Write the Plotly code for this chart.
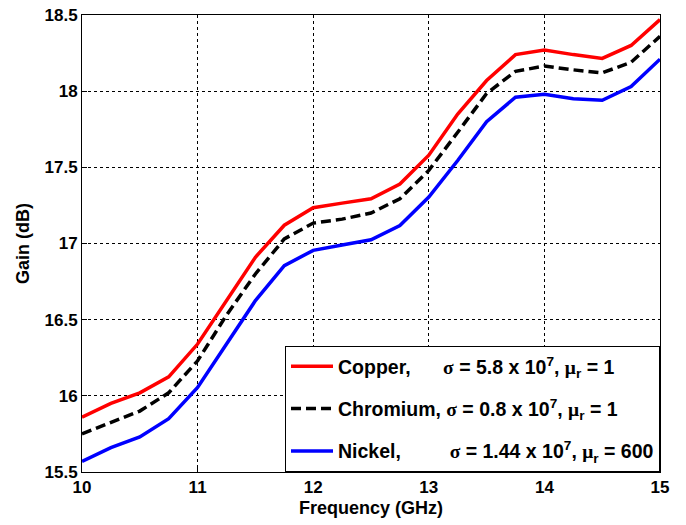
import plotly.graph_objects as go

freq = [10, 10.25, 10.5, 10.75, 11, 11.25, 11.5, 11.75, 12, 12.25, 12.5, 12.75,
        13, 13.25, 13.5, 13.75, 14, 14.25, 14.5, 14.75, 15]
copper = [15.86, 15.95, 16.02, 16.125, 16.34, 16.625, 16.91, 17.12, 17.235, 17.265, 17.294, 17.39,
          17.58, 17.85, 18.07, 18.24, 18.27, 18.24, 18.215, 18.30, 18.47]
chromium = [15.75, 15.825, 15.90, 16.02, 16.23, 16.53, 16.80, 17.03, 17.134, 17.16, 17.20, 17.294,
            17.48, 17.73, 17.985, 18.13, 18.165, 18.14, 18.12, 18.19, 18.36]
nickel = [15.57, 15.66, 15.73, 15.85, 16.055, 16.34, 16.625, 16.855, 16.955, 16.99, 17.024, 17.118,
          17.305, 17.545, 17.80, 17.96, 17.98, 17.95, 17.94, 18.03, 18.21]

x_ticks = [10, 11, 12, 13, 14, 15]
y_ticks = [15.5, 16, 16.5, 17, 17.5, 18, 18.5]

NB = "\u00a0"
sig = '<span style="font-family:Liberation Serif">σ</span>'
mu = '<span style="font-family:Liberation Serif">μ</span>'
names = [
    "Copper," + NB * 6 + f"{sig} = 5.8 x 10<sup>7</sup>, {mu}<sub>r</sub> = 1",
    "Chromium, " + f"{sig} = 0.8 x 10<sup>7</sup>, {mu}<sub>r</sub> = 1",
    "Nickel," + NB * 9 + f"{sig} = 1.44 x 10<sup>7</sup>, {mu}<sub>r</sub> = 600",
]

fig = go.Figure()
fig.add_trace(go.Scatter(x=freq, y=copper, mode="lines", name=names[0], legendgroup="a",
                         line=dict(color="#ff0000", width=3.5)))
fig.add_trace(go.Scatter(x=freq, y=chromium, mode="lines", name=names[1], legendgroup="b",
                         line=dict(color="#000000", width=3.5, dash="10px,5px")))
fig.add_trace(go.Scatter(x=freq, y=nickel, mode="lines", name=names[2], legendgroup="c",
                         line=dict(color="#0000ff", width=3.5)))

axis_common = dict(
    showline=True, linecolor="black", linewidth=1, mirror=True,
    showgrid=True, gridcolor="black", gridwidth=1, griddash="3px,3px",
    ticks="inside", ticklen=5, tickcolor="black",
    zeroline=False, automargin=False,
    tickfont=dict(family="Liberation Sans", size=17, color="black", weight="bold"),
)

fig.update_layout(
    width=686, height=525,
    margin=dict(l=82, r=26, t=15, b=53),
    paper_bgcolor="white", plot_bgcolor="white",
    font=dict(family="Liberation Sans", color="black"),
    xaxis=dict(range=[10, 15], tickvals=x_ticks, ticktext=[str(v) for v in x_ticks],
               title=dict(text="<b>Frequency (GHz)</b>", font=dict(size=18), standoff=4),
               **axis_common),
    yaxis=dict(range=[15.5, 18.5], tickvals=y_ticks, ticktext=[f"{v:g}" for v in y_ticks],
               title=dict(text="<b>Gain (dB)</b>", font=dict(size=18), standoff=10),
               **axis_common),
    showlegend=True,
    legend=dict(x=1, y=0, xanchor="right", yanchor="bottom",
                bgcolor="white", bordercolor="black", borderwidth=1,
                traceorder="grouped", tracegroupgap=14, itemwidth=42,
                font=dict(family="Liberation Sans", size=19.5, color="black", weight="bold")),
)

fig.write_html("out.html", config={"displayModeBar": False},
               post_script="document.body.style.margin='0';")
